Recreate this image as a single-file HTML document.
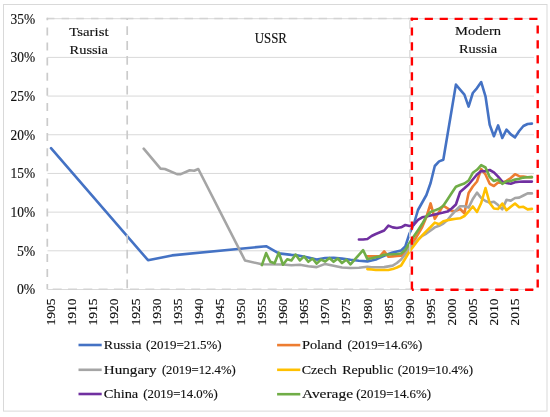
<!DOCTYPE html>
<html><head><meta charset="utf-8">
<style>
html,body{margin:0;padding:0;background:#fff;}
body{width:550px;height:417px;overflow:hidden;position:relative;}
svg{position:absolute;left:0;top:0;}
svg text{font-family:"Liberation Serif", serif;font-size:13.20px;fill:#111;stroke:#111;stroke-width:0.15px;}
svg{will-change:transform;}
</style></head>
<body>
<svg width="550" height="417" viewBox="0 0 550 417">
<rect x="3.5" y="4.5" width="543.5" height="406.6" fill="none" stroke="#D9D9D9" stroke-width="1"/>
<line x1="47.5" y1="289.50" x2="534.0" y2="289.50" stroke="#D9D9D9" stroke-width="1"/>
<line x1="47.5" y1="250.81" x2="534.0" y2="250.81" stroke="#D9D9D9" stroke-width="1"/>
<line x1="47.5" y1="212.13" x2="534.0" y2="212.13" stroke="#D9D9D9" stroke-width="1"/>
<line x1="47.5" y1="173.44" x2="534.0" y2="173.44" stroke="#D9D9D9" stroke-width="1"/>
<line x1="47.5" y1="134.76" x2="534.0" y2="134.76" stroke="#D9D9D9" stroke-width="1"/>
<line x1="47.5" y1="96.07" x2="534.0" y2="96.07" stroke="#D9D9D9" stroke-width="1"/>
<line x1="47.5" y1="57.39" x2="534.0" y2="57.39" stroke="#D9D9D9" stroke-width="1"/>
<line x1="47.5" y1="18.70" x2="534.0" y2="18.70" stroke="#D9D9D9" stroke-width="1"/>
<polyline points="51.0,148.2 148.0,260.2 172.0,255.4 266.1,246.2 278.8,253.4 291.4,254.9 295.6,255.0 308.3,257.5 316.7,259.6 325.2,258.0 333.6,257.8 342.0,258.6 350.5,259.8 358.9,260.7 367.4,261.4 375.8,259.6 380.0,257.6 388.4,254.0 392.7,252.5 396.9,251.5 401.1,250.5 405.3,246.5 409.5,233.5 413.7,224.5 418.0,210.0 422.2,202.5 426.4,195.0 430.6,183.0 434.8,166.0 439.1,161.4 443.3,159.8 447.5,134.7 451.7,109.7 455.9,84.6 460.1,89.6 464.4,94.6 468.6,106.6 472.8,93.0 477.0,88.1 481.2,82.1 485.5,96.3 489.7,124.8 493.9,136.2 498.1,125.4 502.3,138.0 506.5,129.6 510.8,134.4 515.0,137.4 519.2,131.0 523.4,126.0 527.6,124.0 531.9,123.6" fill="none" stroke="#4472C4" stroke-width="2.60" stroke-linejoin="round" stroke-linecap="round"/>
<polyline points="367.4,256.4 371.6,256.4 375.8,256.4 380.0,256.2 384.2,251.4 388.4,256.8 392.7,256.4 396.9,256.0 401.1,255.7 405.3,252.5 409.5,248.0 413.7,241.3 418.0,234.3 422.2,227.0 426.4,217.0 430.6,203.4 434.8,218.8 439.1,212.0 443.3,205.6 447.5,208.3 451.7,211.0 455.9,210.7 460.1,209.0 464.4,213.2 468.6,193.0 472.8,186.5 477.0,181.5 481.2,169.0 485.5,174.5 489.7,183.8 493.9,186.0 498.1,182.6 502.3,182.6 506.5,180.9 510.8,178.0 515.0,174.2 519.2,176.2 523.4,176.5 527.6,177.3 531.9,177.1" fill="none" stroke="#ED7D31" stroke-width="2.60" stroke-linejoin="round" stroke-linecap="round"/>
<polyline points="143.7,148.7 160.5,168.6 164.9,169.0 177.0,174.1 180.8,174.1 189.7,170.3 194.2,170.8 198.3,169.0 245.0,260.5 261.9,264.3 283.0,264.5 291.4,265.3 299.9,264.8 308.3,266.2 316.7,267.1 325.2,263.9 333.6,265.7 342.0,267.5 350.5,268.0 358.9,267.8 367.4,266.7 371.6,267.2 384.2,267.1 392.7,265.6 396.9,263.0 401.1,259.5 405.3,254.3 409.5,248.3 413.7,244.0 418.0,239.6 422.2,235.8 426.4,233.5 430.6,230.5 434.8,227.4 439.1,225.8 443.3,223.5 447.5,220.0 451.7,214.8 455.9,210.3 460.1,206.3 464.4,206.3 468.6,207.6 472.8,199.0 477.0,192.6 481.2,198.0 485.5,201.0 489.7,202.6 493.9,201.8 498.1,205.1 502.3,209.3 506.5,199.9 510.8,200.6 515.0,198.0 519.2,197.6 523.4,195.5 527.6,193.4 531.9,193.4" fill="none" stroke="#A5A5A5" stroke-width="2.60" stroke-linejoin="round" stroke-linecap="round"/>
<polyline points="367.4,269.1 371.6,269.5 375.8,270.0 380.0,270.0 384.2,270.0 388.4,270.0 392.7,269.1 396.9,267.5 401.1,265.5 405.3,258.5 409.5,251.5 413.7,246.0 418.0,240.2 422.2,235.5 426.4,231.2 430.6,227.0 434.8,222.6 439.1,224.2 443.3,221.2 447.5,220.2 451.7,219.4 455.9,218.8 460.1,218.3 464.4,216.0 468.6,211.5 472.8,206.5 477.0,212.0 481.2,203.0 485.5,188.0 489.7,203.0 493.9,208.5 498.1,209.0 502.3,203.5 506.5,210.2 510.8,206.8 515.0,203.5 519.2,207.3 523.4,206.8 527.6,209.4 531.9,208.9" fill="none" stroke="#FFC000" stroke-width="2.60" stroke-linejoin="round" stroke-linecap="round"/>
<polyline points="358.9,239.5 363.1,239.5 367.4,239.0 371.6,236.0 375.8,234.0 380.0,232.3 384.2,230.5 388.4,225.6 392.7,227.4 396.9,228.0 401.1,227.3 405.3,225.0 409.5,226.0 413.7,224.8 418.0,219.8 422.2,217.3 426.4,216.5 430.6,215.5 434.8,214.5 439.1,213.5 443.3,212.6 447.5,211.6 451.7,208.5 455.9,204.5 460.1,192.0 464.4,188.3 468.6,184.5 472.8,179.5 477.0,174.5 481.2,171.0 485.5,171.2 489.7,170.0 493.9,172.3 498.1,176.7 502.3,181.7 506.5,183.0 510.8,183.8 515.0,182.2 519.2,181.7 523.4,181.6 527.6,181.6 531.9,181.6" fill="none" stroke="#7030A0" stroke-width="2.60" stroke-linejoin="round" stroke-linecap="round"/>
<polyline points="261.9,265.1 266.1,253.1 270.3,261.8 274.6,263.3 278.8,252.7 283.0,264.7 287.2,259.3 291.4,260.4 295.6,254.5 299.9,260.4 304.1,256.4 308.3,261.8 312.5,258.5 316.7,263.6 321.0,259.6 325.2,261.5 329.4,258.0 333.6,261.8 337.8,258.5 342.0,263.1 346.3,259.7 350.5,264.3 354.7,259.6 358.9,254.8 363.1,250.1 367.4,259.1 371.6,258.2 375.8,257.2 380.0,256.2 384.2,254.7 388.4,254.5 392.7,254.3 396.9,254.0 401.1,253.5 405.3,250.0 409.5,243.0 413.7,236.5 418.0,230.2 422.2,223.8 426.4,216.5 430.6,212.0 434.8,210.4 439.1,208.8 443.3,205.8 447.5,199.5 451.7,193.0 455.9,186.8 460.1,185.0 464.4,183.5 468.6,180.5 472.8,172.8 477.0,169.8 481.2,165.1 485.5,167.5 489.7,177.0 493.9,181.0 498.1,179.6 502.3,183.8 506.5,181.3 510.8,180.9 515.0,179.6 519.2,178.8 523.4,177.6 527.6,177.3 531.9,177.1" fill="none" stroke="#70AD47" stroke-width="2.60" stroke-linejoin="round" stroke-linecap="round"/>
<line x1="46.50" y1="18.50" x2="127.20" y2="18.50" stroke="#D3D3D3" stroke-width="1.50" stroke-dasharray="7.50 7.20" stroke-dashoffset="14.30"/>
<line x1="127.20" y1="18.50" x2="409.80" y2="18.50" stroke="#D3D3D3" stroke-width="1.50" stroke-dasharray="8.50 6.40" stroke-dashoffset="2.30"/>
<line x1="47.30" y1="17.70" x2="47.30" y2="289.30" stroke="#CBCBCB" stroke-width="1.70" stroke-dasharray="8.00 7.10" stroke-dashoffset="5.40"/>
<line x1="127.20" y1="18.50" x2="127.20" y2="289.30" stroke="#CBCBCB" stroke-width="1.70" stroke-dasharray="8.80 6.10" stroke-dashoffset="7.20"/>
<line x1="409.80" y1="18.50" x2="409.80" y2="289.30" stroke="#DADADA" stroke-width="1.30" stroke-dasharray="8.50 6.40" stroke-dashoffset="13.20"/>
<line x1="47.30" y1="289.30" x2="127.20" y2="289.30" stroke="#D3D3D3" stroke-width="1.50" stroke-dasharray="9.00 6.30" stroke-dashoffset="9.90"/>
<line x1="127.20" y1="289.30" x2="409.80" y2="289.30" stroke="#D3D3D3" stroke-width="1.50" stroke-dasharray="9.00 6.30" stroke-dashoffset="12.50"/>
<text x="69.3" y="35.7" textLength="39.2" lengthAdjust="spacingAndGlyphs">Tsarist</text>
<text x="69.6" y="53.7" textLength="38.4" lengthAdjust="spacingAndGlyphs">Russia</text>
<text x="254.7" y="42.5" textLength="32.2" lengthAdjust="spacingAndGlyphs" style="font-size:14.0px">USSR</text>
<text x="455.0" y="35.3" textLength="46.1" lengthAdjust="spacingAndGlyphs">Modern</text>
<text x="458.9" y="52.7" textLength="38.3" lengthAdjust="spacingAndGlyphs">Russia</text>
<line x1="410.70" y1="18.90" x2="537.70" y2="18.90" stroke="#FF0000" stroke-width="2.40" stroke-dasharray="8.20 6.74" stroke-dashoffset="0.94"/>
<line x1="537.70" y1="18.90" x2="537.70" y2="289.80" stroke="#FF0000" stroke-width="2.40" stroke-dasharray="8.20 6.74" stroke-dashoffset="8.44"/>
<line x1="411.90" y1="289.80" x2="537.70" y2="289.80" stroke="#FF0000" stroke-width="2.40" stroke-dasharray="8.20 6.74" stroke-dashoffset="6.32"/>
<line x1="411.90" y1="17.70" x2="411.90" y2="289.80" stroke="#FF0000" stroke-width="2.40" stroke-dasharray="8.20 6.74" stroke-dashoffset="5.24"/>
<text x="16.9" y="294.3" style="font-size:14.0px" textLength="18.3" lengthAdjust="spacingAndGlyphs">0%</text>
<text x="16.9" y="255.6" style="font-size:14.0px" textLength="18.3" lengthAdjust="spacingAndGlyphs">5%</text>
<text x="10.6" y="216.9" style="font-size:14.0px" textLength="24.6" lengthAdjust="spacingAndGlyphs">10%</text>
<text x="10.6" y="178.2" style="font-size:14.0px" textLength="24.6" lengthAdjust="spacingAndGlyphs">15%</text>
<text x="10.6" y="139.6" style="font-size:14.0px" textLength="24.6" lengthAdjust="spacingAndGlyphs">20%</text>
<text x="10.6" y="100.9" style="font-size:14.0px" textLength="24.6" lengthAdjust="spacingAndGlyphs">25%</text>
<text x="10.6" y="62.2" style="font-size:14.0px" textLength="24.6" lengthAdjust="spacingAndGlyphs">30%</text>
<text x="10.6" y="23.5" style="font-size:14.0px" textLength="24.6" lengthAdjust="spacingAndGlyphs">35%</text>
<text transform="translate(55.15,298.60) rotate(-90)" x="-27.0" y="0" style="font-size:13.0px" textLength="27.0" lengthAdjust="spacingAndGlyphs">1905</text>
<text transform="translate(76.24,298.60) rotate(-90)" x="-27.0" y="0" style="font-size:13.0px" textLength="27.0" lengthAdjust="spacingAndGlyphs">1910</text>
<text transform="translate(97.33,298.60) rotate(-90)" x="-27.0" y="0" style="font-size:13.0px" textLength="27.0" lengthAdjust="spacingAndGlyphs">1915</text>
<text transform="translate(118.42,298.60) rotate(-90)" x="-27.0" y="0" style="font-size:13.0px" textLength="27.0" lengthAdjust="spacingAndGlyphs">1920</text>
<text transform="translate(139.51,298.60) rotate(-90)" x="-27.0" y="0" style="font-size:13.0px" textLength="27.0" lengthAdjust="spacingAndGlyphs">1925</text>
<text transform="translate(160.60,298.60) rotate(-90)" x="-27.0" y="0" style="font-size:13.0px" textLength="27.0" lengthAdjust="spacingAndGlyphs">1930</text>
<text transform="translate(181.69,298.60) rotate(-90)" x="-27.0" y="0" style="font-size:13.0px" textLength="27.0" lengthAdjust="spacingAndGlyphs">1935</text>
<text transform="translate(202.78,298.60) rotate(-90)" x="-27.0" y="0" style="font-size:13.0px" textLength="27.0" lengthAdjust="spacingAndGlyphs">1940</text>
<text transform="translate(223.87,298.60) rotate(-90)" x="-27.0" y="0" style="font-size:13.0px" textLength="27.0" lengthAdjust="spacingAndGlyphs">1945</text>
<text transform="translate(244.96,298.60) rotate(-90)" x="-27.0" y="0" style="font-size:13.0px" textLength="27.0" lengthAdjust="spacingAndGlyphs">1950</text>
<text transform="translate(266.05,298.60) rotate(-90)" x="-27.0" y="0" style="font-size:13.0px" textLength="27.0" lengthAdjust="spacingAndGlyphs">1955</text>
<text transform="translate(287.14,298.60) rotate(-90)" x="-27.0" y="0" style="font-size:13.0px" textLength="27.0" lengthAdjust="spacingAndGlyphs">1960</text>
<text transform="translate(308.23,298.60) rotate(-90)" x="-27.0" y="0" style="font-size:13.0px" textLength="27.0" lengthAdjust="spacingAndGlyphs">1965</text>
<text transform="translate(329.32,298.60) rotate(-90)" x="-27.0" y="0" style="font-size:13.0px" textLength="27.0" lengthAdjust="spacingAndGlyphs">1970</text>
<text transform="translate(350.41,298.60) rotate(-90)" x="-27.0" y="0" style="font-size:13.0px" textLength="27.0" lengthAdjust="spacingAndGlyphs">1975</text>
<text transform="translate(371.50,298.60) rotate(-90)" x="-27.0" y="0" style="font-size:13.0px" textLength="27.0" lengthAdjust="spacingAndGlyphs">1980</text>
<text transform="translate(392.59,298.60) rotate(-90)" x="-27.0" y="0" style="font-size:13.0px" textLength="27.0" lengthAdjust="spacingAndGlyphs">1985</text>
<text transform="translate(413.68,298.60) rotate(-90)" x="-27.0" y="0" style="font-size:13.0px" textLength="27.0" lengthAdjust="spacingAndGlyphs">1990</text>
<text transform="translate(434.77,298.60) rotate(-90)" x="-27.0" y="0" style="font-size:13.0px" textLength="27.0" lengthAdjust="spacingAndGlyphs">1995</text>
<text transform="translate(455.86,298.60) rotate(-90)" x="-27.0" y="0" style="font-size:13.0px" textLength="27.0" lengthAdjust="spacingAndGlyphs">2000</text>
<text transform="translate(476.95,298.60) rotate(-90)" x="-27.0" y="0" style="font-size:13.0px" textLength="27.0" lengthAdjust="spacingAndGlyphs">2005</text>
<text transform="translate(498.04,298.60) rotate(-90)" x="-27.0" y="0" style="font-size:13.0px" textLength="27.0" lengthAdjust="spacingAndGlyphs">2010</text>
<text transform="translate(519.13,298.60) rotate(-90)" x="-27.0" y="0" style="font-size:13.0px" textLength="27.0" lengthAdjust="spacingAndGlyphs">2015</text>
<line x1="78.5" y1="345.0" x2="101.7" y2="345.0" stroke="#4472C4" stroke-width="2.60" stroke-linecap="butt"/>
<text x="103.8" y="348.8" textLength="37.6" lengthAdjust="spacingAndGlyphs">Russia</text>
<text x="146.1" y="348.8" textLength="75.6" lengthAdjust="spacingAndGlyphs">(2019=21.5%)</text>
<line x1="78.5" y1="369.8" x2="101.7" y2="369.8" stroke="#A5A5A5" stroke-width="2.60" stroke-linecap="butt"/>
<text x="103.8" y="373.8" textLength="52.9" lengthAdjust="spacingAndGlyphs">Hungary</text>
<text x="161.9" y="373.8" textLength="73.8" lengthAdjust="spacingAndGlyphs">(2019=12.4%)</text>
<line x1="78.5" y1="394.0" x2="101.7" y2="394.0" stroke="#7030A0" stroke-width="2.60" stroke-linecap="butt"/>
<text x="103.8" y="397.6" textLength="34.5" lengthAdjust="spacingAndGlyphs">China</text>
<text x="143.3" y="397.6" textLength="74.4" lengthAdjust="spacingAndGlyphs">(2019=14.0%)</text>
<line x1="277.1" y1="345.1" x2="300.3" y2="345.1" stroke="#ED7D31" stroke-width="2.60" stroke-linecap="butt"/>
<text x="301.9" y="348.8" textLength="40.0" lengthAdjust="spacingAndGlyphs">Poland</text>
<text x="347.6" y="348.8" textLength="74.7" lengthAdjust="spacingAndGlyphs">(2019=14.6%)</text>
<line x1="277.1" y1="369.8" x2="300.3" y2="369.8" stroke="#FFC000" stroke-width="2.60" stroke-linecap="butt"/>
<text x="301.8" y="373.8" textLength="34.9" lengthAdjust="spacingAndGlyphs">Czech</text>
<text x="342.2" y="373.8" textLength="51.0" lengthAdjust="spacingAndGlyphs">Republic</text>
<text x="397.7" y="373.8" textLength="75.3" lengthAdjust="spacingAndGlyphs">(2019=10.4%)</text>
<line x1="277.1" y1="394.2" x2="300.3" y2="394.2" stroke="#70AD47" stroke-width="2.60" stroke-linecap="butt"/>
<text x="301.9" y="397.6" textLength="51.1" lengthAdjust="spacingAndGlyphs">Average</text>
<text x="356.3" y="397.6" textLength="74.7" lengthAdjust="spacingAndGlyphs">(2019=14.6%)</text>
</svg>
</body></html>
